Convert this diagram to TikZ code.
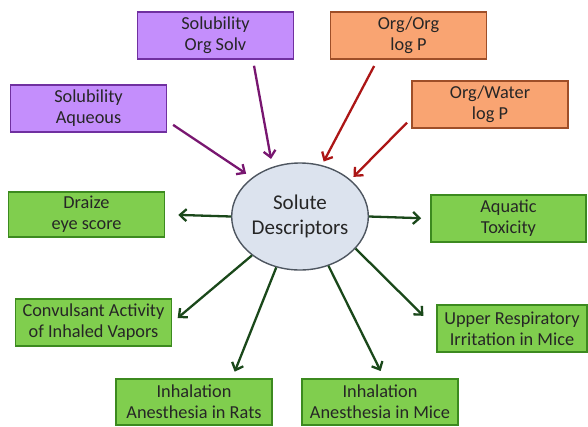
\documentclass[tikz,border=0pt]{standalone}
\usepackage{fontspec}
\setmainfont{Carlito}
\usetikzlibrary{arrows.meta, shapes.geometric}

\definecolor{solfill}{RGB}{196,142,252}
\definecolor{solline}{RGB}{112,48,160}
\definecolor{logfill}{RGB}{249,164,114}
\definecolor{logline}{RGB}{158,78,40}
\definecolor{outfill}{RGB}{128,206,78}
\definecolor{outline}{RGB}{60,138,31}
\definecolor{descfill}{RGB}{220,227,238}
\definecolor{descline}{RGB}{78,86,96}
\definecolor{solarrow}{RGB}{120,22,112}
\definecolor{logarrow}{RGB}{172,22,22}
\definecolor{outarrow}{RGB}{26,72,26}

\tikzset{
  box/.style={draw, line width=1.6pt, minimum width=156pt, minimum height=47pt,
    inner sep=0pt, align=center, text=black!85, font=\fontsize{18.3}{21}\selectfont},
  solbox/.style={box, fill=solfill, draw=solline},
  logbox/.style={box, fill=logfill, draw=logline},
  outbox/.style={box, fill=outfill, draw=outline},
  arr/.style={line width=2.3pt, -{Straight Barb[length=6.5pt,width=12pt]}},
}

\begin{document}
\begin{tikzpicture}[x=1pt, y=-1pt]
  \useasboundingbox (0,0) rectangle (588,426);

  % centre
  \node[ellipse, draw=descline, fill=descfill, line width=1.4pt, minimum width=133pt,
    minimum height=107pt, inner sep=0pt, text=black!85,
    font=\fontsize{21}{25}\selectfont] (desc) at (300,216.5)
    {\raisebox{7pt}{\begin{tabular}{@{}c@{}}Solute\\Descriptors\end{tabular}}};

  % inputs
  \node[solbox] (solorg) at (215.5,35.5) {Solubility\\Org Solv};
  \node[logbox] (orgorg) at (408.5,35.5) {Org/Org\\log P};
  \node[solbox] (solaq) at (88.5,108.5) {Solubility\\Aqueous};
  \node[logbox] (orgwat) at (490,104.5) {Org/Water\\log P};

  % outputs
  \node[outbox, minimum height=45pt] (draize) at (86.5,214.5) {Draize\\eye score};
  \node[outbox, minimum width=155pt] (aquatic) at (508.5,218.5) {Aquatic\\Toxicity};
  \node[outbox] (conv) at (93.5,322.5) {Convulsant Activity\\of Inhaled Vapors};
  \node[outbox, minimum width=150pt] (upper) at (512,328.5) {Upper Respiratory\\Irritation in Mice};
  \node[outbox, minimum height=46pt] (rats) at (194,402) {Inhalation\\Anesthesia in Rats};
  \node[outbox, minimum height=46pt] (mice) at (380,402) {Inhalation\\Anesthesia in Mice};

  \draw[arr, solarrow, shorten <=6pt, shorten >=8pt] (solorg.-33) -- (desc.119);
  \draw[arr, solarrow, shorten <=7pt, shorten >=7pt] (solaq.-9) -- (desc.141);
  \draw[arr, logarrow, shorten <=7pt, shorten >=4pt] (orgorg.218) -- (desc.67);
  \draw[arr, logarrow, shorten <=6pt, shorten >=4pt] (orgwat.190) -- (desc.36);

  \draw[arr, outarrow, shorten >=13pt] (desc.west) -- (draize.east);
  \draw[arr, outarrow, shorten >=9pt] (desc.east) -- (aquatic.west);
  \draw[arr, outarrow, shorten >=7pt] (desc.219) -- (conv.east);
  \draw[arr, outarrow, shorten >=18pt] (desc.330) -- (upper.west);
  \draw[arr, outarrow, shorten >=7pt] (desc.245) -- (rats.32);
  \draw[arr, outarrow, shorten >=8pt] (desc.300) -- (mice.80);
\end{tikzpicture}
\end{document}
